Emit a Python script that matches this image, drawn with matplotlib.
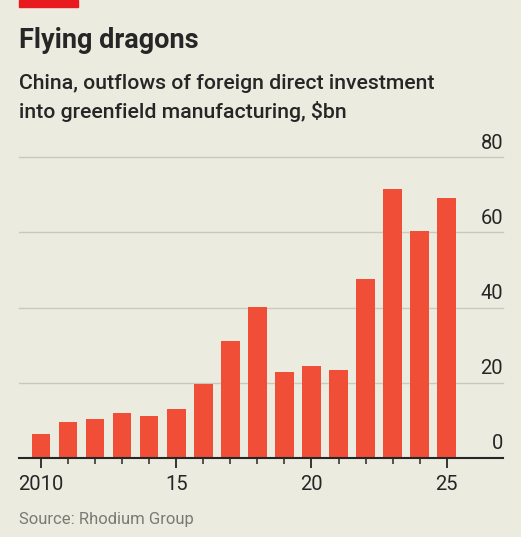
import matplotlib
matplotlib.use("Agg")
import matplotlib.pyplot as plt
from matplotlib.patches import Rectangle
from matplotlib.ticker import FixedLocator

years = list(range(2010, 2026))
values = [6.3, 9.5, 10.5, 12.0, 11.3, 13.0, 19.7, 31.2, 40.3, 23.0, 24.6, 23.5, 47.6, 71.6, 60.4, 69.1]
major_ticks = [2010, 2015, 2020, 2025]
major_labels = ["2010", "15", "20", "25"]
y_ticks = [0, 20, 40, 60, 80]

BG = "#EBEBDF"
BAR = "#F04E37"
TXT = "#262626"

plt.rcParams['font.family'] = ['Roboto', 'DejaVu Sans']

W, H = 521, 537
fig = plt.figure(figsize=(W/100, H/100), dpi=100, facecolor=BG)

ax_left, ax_right = 19/W, 503/W
ax_bottom = 1 - 458/H
ax_top = 1 - 157.3/H
ax = fig.add_axes([ax_left, ax_bottom, ax_right-ax_left, ax_top-ax_bottom])
ax.set_facecolor(BG)

ax.bar(years, values, width=0.69, color=BAR, zorder=3)
ax.set_xlim(2009.19, 2027.08)
ax.set_ylim(0, 80)

for yv in y_ticks[1:]:
    ax.axhline(yv, color="#C9C9BF", lw=1.0, zorder=1, clip_on=False)
for yv in y_ticks:
    ax.text(1.0, yv + 1.2, str(yv), transform=ax.get_yaxis_transform(), ha="right", va="bottom",
            fontsize=14.5, color=TXT)

for s in ["top", "right", "left"]:
    ax.spines[s].set_visible(False)
ax.spines["bottom"].set_color(TXT)
ax.spines["bottom"].set_linewidth(1.5)
ax.spines["bottom"].set_zorder(4)
ax.set_yticks([])

ax.xaxis.set_major_locator(FixedLocator(major_ticks))
ax.xaxis.set_minor_locator(FixedLocator(years))
ax.set_xticklabels(major_labels)
ax.tick_params(axis="x", which="major", length=7, width=1.3, color=TXT, labelsize=14.5,
               labelcolor=TXT, pad=5)
ax.tick_params(axis="x", which="minor", length=4.5, width=1.1, color=TXT)

# red top bar
fig.patches.append(Rectangle((19/W, 1 - 7/H), 59/W, 7/H, transform=fig.transFigure,
                             color="#E8191F", zorder=5))

fig.text(19/W, 1 - 48/H, "Flying dragons", fontsize=19.5, fontweight="bold", color=TXT,
         ha="left", va="baseline")
fig.text(19/W, 1 - 89/H, "China, outflows of foreign direct investment", fontsize=15.3,
         color=TXT, ha="left", va="baseline", fontweight="medium")
fig.text(19/W, 1 - 118/H, "into greenfield manufacturing, $bn", fontsize=15.3,
         color=TXT, ha="left", va="baseline", fontweight="medium")
fig.text(19/W, 1 - 524/H, "Source: Rhodium Group", fontsize=12, color="#7A7A75",
         ha="left", va="baseline")

fig.savefig("out.png", dpi=100, facecolor=BG)
